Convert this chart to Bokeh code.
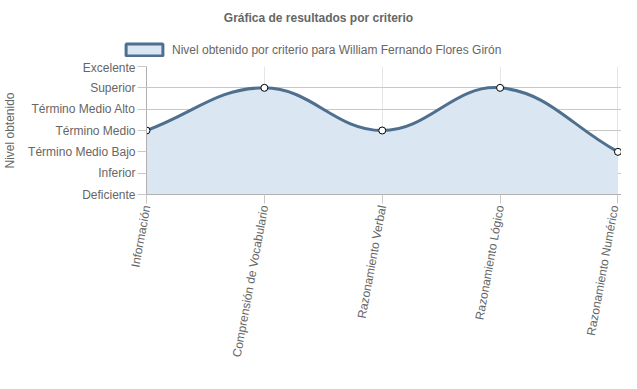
import numpy as np
from bokeh.plotting import figure
from bokeh.layouts import column, row
from bokeh.models import (FixedTicker, Range1d, Legend, LegendItem, Label, ColumnDataSource)
from bokeh.embed import file_html
from bokeh.resources import INLINE

categories = ["Información", "Comprensión de Vocabulario", "Razonamiento Verbal",
              "Razonamiento Lógico", "Razonamiento Numérico"]
levels = ["Deficiente", "Inferior", "Término Medio Bajo", "Término Medio",
          "Término Medio Alto", "Superior", "Excelente"]
values = [4, 6, 4, 6, 3]   # 1 = Deficiente ... 7 = Excelente
series_name = "Nivel obtenido por criterio para William Fernando Flores Girón"
title_text = "Gráfica de resultados por criterio"
y_label = "Nivel obtenido"

LINE = "#4f6f8f"
FILL = "#dae7f3"
TEXT = "#666666"
FONT = "Liberation Sans"

W = 621
TOP_H = 60
MAIN_H = 310
FL, FT = 138, 6          # frame left / top inside main figure
FB = FT + 128
xs = np.arange(len(categories), dtype=float)
ys = np.array(values, dtype=float)

# ---------- header figure: title + legend ----------
top = figure(width=W, height=TOP_H, output_backend="svg", toolbar_location=None,
             x_range=Range1d(0, W), y_range=Range1d(0, TOP_H),
             min_border=0, x_axis_type=None, y_axis_type=None)
top.outline_line_color = None
top.xgrid.visible = False
top.ygrid.visible = False
top.add_layout(Label(x=318, y=TOP_H - 17, x_units="screen", y_units="screen", text=title_text,
                     text_font=FONT, text_font_size="12px", text_font_style="bold",
                     text_color=TEXT, text_align="center", text_baseline="middle"))
# legend swatch renderer (its own geometry lies outside the visible range)
swatch = top.patch(x=[-50, -40, -40], y=[-50, -50, -40], fill_color=FILL,
                   line_color=LINE, line_width=3)
legend = Legend(items=[LegendItem(label=series_name, renderers=[swatch])],
                location=(121, 3), orientation="horizontal",
                glyph_width=46, glyph_height=15, label_standoff=5, padding=0, margin=0,
                border_line_color=None, background_fill_alpha=0,
                label_text_font=FONT, label_text_font_size="12px", label_text_color=TEXT)
top.add_layout(legend, "center")

# ---------- main chart ----------
p = figure(width=W, height=MAIN_H, output_backend="svg", toolbar_location=None,
           x_range=Range1d(0, 4.03), y_range=Range1d(1, 7),
           min_border_left=FL, min_border_top=FT, min_border_right=0,
           min_border_bottom=MAIN_H - FB)
p.outline_line_color = None

# Chart.js-like bezier control points (tension 0.4), computed in pixel space
sx = 121.75
sy = 128 / 6.0
px = xs * sx
py = ys * sy
n = len(px)
cp_prev = np.zeros((n, 2)); cp_next = np.zeros((n, 2))
for i in range(n):
    pr = (px[max(i - 1, 0)], py[max(i - 1, 0)])
    cu = (px[i], py[i])
    nx = (px[min(i + 1, n - 1)], py[min(i + 1, n - 1)])
    d01 = np.hypot(cu[0] - pr[0], cu[1] - pr[1])
    d12 = np.hypot(nx[0] - cu[0], nx[1] - cu[1])
    s01 = d01 / (d01 + d12); s12 = d12 / (d01 + d12)
    fa = 0.4 * s01; fb = 0.4 * s12
    cp_prev[i] = (cu[0] - fa * (nx[0] - pr[0]), cu[1] - fa * (nx[1] - pr[1]))
    cp_next[i] = (cu[0] + fb * (nx[0] - pr[0]), cu[1] + fb * (nx[1] - pr[1]))
cp_prev[:, 0] /= sx; cp_prev[:, 1] /= sy
cp_next[:, 0] /= sx; cp_next[:, 1] /= sy
cp_prev[:, 1] = np.clip(cp_prev[:, 1], 1, 7); cp_next[:, 1] = np.clip(cp_next[:, 1], 1, 7)

seg = dict(x0=xs[:-1], y0=ys[:-1], x1=xs[1:], y1=ys[1:],
           cx0=cp_next[:-1, 0], cy0=cp_next[:-1, 1], cx1=cp_prev[1:, 0], cy1=cp_prev[1:, 1])

# sampled curve for the filled area
t = np.linspace(0, 1, 40)[:, None]
cx, cy = [], []
for i in range(n - 1):
    P0 = np.array([xs[i], ys[i]]); P3 = np.array([xs[i + 1], ys[i + 1]])
    P1 = cp_next[i]; P2 = cp_prev[i + 1]
    B = (1 - t) ** 3 * P0 + 3 * (1 - t) ** 2 * t * P1 + 3 * (1 - t) * t ** 2 * P2 + t ** 3 * P3
    cx.extend(B[:, 0]); cy.extend(B[:, 1])
p.varea(x=cx, y1=[1] * len(cx), y2=cy, fill_color=FILL)
p.bezier(source=ColumnDataSource(seg), x0="x0", y0="y0", x1="x1", y1="y1",
         cx0="cx0", cy0="cy0", cx1="cx1", cy1="cy1", line_color=LINE, line_width=3)
p.scatter(xs, ys, size=7, fill_color="white", line_color="black", line_width=1)

# axes
p.xaxis.ticker = FixedTicker(ticks=list(range(len(categories))))
p.xaxis.major_label_overrides = {i: c for i, c in enumerate(categories)}
p.xaxis.major_label_orientation = 1.39
p.yaxis.ticker = FixedTicker(ticks=list(range(1, 8)))
p.yaxis.major_label_overrides = {i + 1: l for i, l in enumerate(levels)}
p.yaxis.axis_label = y_label
for ax in (p.xaxis[0], p.yaxis[0]):
    ax.major_label_text_font = FONT
    ax.major_label_text_font_size = "12px"
    ax.major_label_text_color = TEXT
    ax.axis_label_text_font = FONT
    ax.axis_label_text_font_size = "12px"
    ax.axis_label_text_font_style = "normal"
    ax.axis_label_text_color = TEXT
    ax.major_tick_in = 0
    ax.major_tick_out = 9
    ax.major_tick_line_color = "#c8c8c8"
    ax.minor_tick_line_color = None
    ax.axis_line_color = "#b0b0b0"
    ax.major_label_standoff = 2
p.yaxis.axis_label_standoff = 8
p.xgrid.grid_line_color = "#e6e6e6"
p.ygrid.grid_line_color = "#c8c8c8"

layout = column(row(top), p, spacing=0)
open("out.html", "w").write(file_html(layout, INLINE))
